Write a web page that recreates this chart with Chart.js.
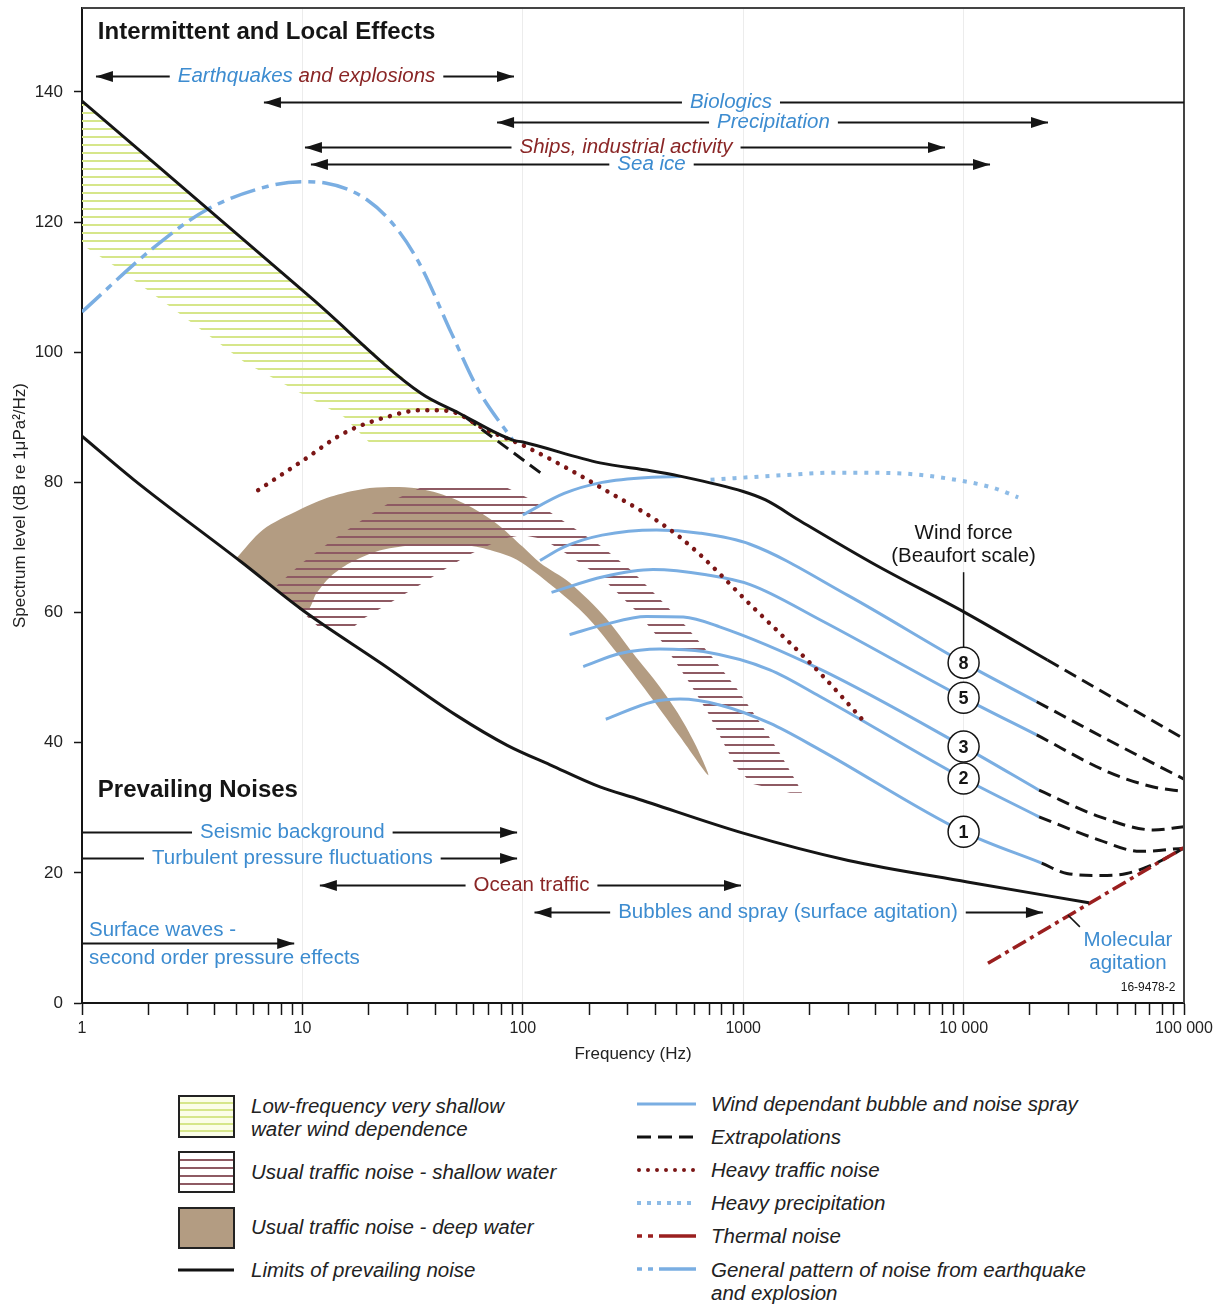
<!DOCTYPE html>
<html>
<head>
<meta charset="utf-8">
<title>Ambient noise spectra</title>
<script src="https://cdn.jsdelivr.net/npm/chart.js"></script>
<style>
  body { margin: 0; background: #fff; }
  #wrap { position: relative; width: 1218px; height: 1305px; font-family: "Liberation Sans", Arial, sans-serif; }
  #chart { position: absolute; left: 0; top: 0; }
  .key { position: absolute; font-style: italic; font-size: 20.5px; line-height: 23px; color: #222; white-space: nowrap; }
  .box { position: absolute; box-sizing: border-box; border: 2px solid #222; width: 57px; left: 178px; }
</style>
</head>
<body>
<div id="wrap">
  <canvas id="chart" width="1218" height="1075"></canvas>

  <div class="box" style="top:1095px;height:43px;background:repeating-linear-gradient(to bottom,#fbfde8 0,#fbfde8 5px,#d6e68a 5px,#d6e68a 7px)"></div>
  <div class="box" style="top:1151px;height:42px;background:repeating-linear-gradient(to bottom,#fff 0,#fff 6px,#8e5a63 6px,#8e5a63 8px)"></div>
  <div class="box" style="top:1207px;height:42px;background:#b39c82"></div>

  <svg style="position:absolute;left:0;top:1075px" width="1218" height="230">
    <line x1="178" y1="195" x2="234" y2="195" stroke="#111" stroke-width="3"/>
    <line x1="637" y1="29" x2="696" y2="29" stroke="#7aaee2" stroke-width="3"/>
    <line x1="637" y1="62" x2="696" y2="62" stroke="#111" stroke-width="3" stroke-dasharray="14 7"/>
    <line x1="639" y1="95" x2="696" y2="95" stroke="#7b1616" stroke-width="4" stroke-linecap="round" stroke-dasharray="0 9"/>
    <line x1="637" y1="128" x2="696" y2="128" stroke="#8dbbe6" stroke-width="4" stroke-dasharray="4 6"/>
    <line x1="637" y1="161" x2="696" y2="161" stroke="#9a1f1f" stroke-width="3.5" stroke-dasharray="5 6 5 6 40"/>
    <line x1="637" y1="194" x2="696" y2="194" stroke="#7aaee2" stroke-width="3.5" stroke-dasharray="5 6 5 6 40"/>
  </svg>

  <div class="key" style="left:251px;top:1094px">Low-frequency very shallow<br>water wind dependence</div>
  <div class="key" style="left:251px;top:1160px">Usual traffic noise - shallow water</div>
  <div class="key" style="left:251px;top:1215px">Usual traffic noise - deep water</div>
  <div class="key" style="left:251px;top:1258px">Limits of prevailing noise</div>
  <div class="key" style="left:711px;top:1092px">Wind dependant bubble and noise spray</div>
  <div class="key" style="left:711px;top:1125px">Extrapolations</div>
  <div class="key" style="left:711px;top:1158px">Heavy traffic noise</div>
  <div class="key" style="left:711px;top:1191px">Heavy precipitation</div>
  <div class="key" style="left:711px;top:1224px">Thermal noise</div>
  <div class="key" style="left:711px;top:1258px">General pattern of noise from earthquake<br>and explosion</div>
</div>

<script>
// frequencies in Hz, levels in dB re 1 µPa²/Hz
const upperLimitHz = [1, 11, 34.5, 51, 90, 100, 224, 380, 510, 1000, 1263, 1830, 3900, 10400, 24000];
const upperLimitDb = [138.6, 108.3, 93.7, 90.7, 86.5, 86.2, 83.0, 81.8, 81.0, 78.6, 77.3, 74.0, 67.5, 59.8, 52.7];
const lowerLimitHz = [1, 1.72, 5.27, 10, 23, 50, 85, 133, 224, 323, 1000, 3000, 10400, 37000];
const lowerLimitDb = [87.1, 80.4, 67.8, 60.4, 52.1, 44.2, 39.6, 36.6, 33.2, 31.5, 26.1, 21.9, 18.6, 15.4];

// wind dependent bubble / spray noise, Beaufort force
const windForces = ['8', '5', '3', '2', '1'];
const windTopHz = [100, 154, 229, 386, 520];
const windTopDb = [75.0, 78.3, 80.0, 80.8, 80.9];
const wind8Hz = [119.7, 154, 229, 404, 637, 1075, 3000, 10000, 21460];
const wind8Db = [68.0, 70.1, 71.9, 72.7, 72.2, 70.5, 62.6, 52.3, 46.3];
const wind5Hz = [135, 232, 390, 680, 1075, 2230, 10000, 21460];
const wind5Db = [63.1, 65.5, 66.6, 65.8, 64.3, 58.9, 46.9, 41.2];
const wind3Hz = [163, 232, 364, 535, 782, 2230, 10000, 22000];
const wind3Db = [56.6, 58.1, 59.4, 59.3, 57.8, 51.3, 39.4, 32.7];
const wind2Hz = [188, 276, 418, 660, 1320, 2230, 10000, 22000];
const wind2Db = [51.7, 53.7, 54.4, 54.0, 51.2, 47.1, 34.5, 28.6];
const wind1Hz = [238, 390, 517, 782, 1320, 2230, 10000, 22600];
const wind1Db = [43.6, 46.3, 46.7, 45.8, 43.0, 38.9, 26.3, 21.5];

// extrapolations (black dashed)
const extUpperHz = [24000, 100000];
const extUpperDb = [52.7, 40.6];
const extTrendHz = [55, 120];
const extTrendDb = [90.0, 81.5];
const ext8Hz = [21460, 46000, 100000];
const ext8Db = [46.3, 40.3, 34.4];
const ext5Hz = [21460, 46000, 72600, 100000];
const ext5Db = [41.2, 35.4, 33.2, 32.5];
const ext3Hz = [22000, 41600, 72600, 100000];
const ext3Db = [32.7, 28.6, 26.6, 27.1];
const ext2Hz = [22000, 41600, 63100, 100000];
const ext2Db = [28.6, 25.0, 23.3, 23.8];
const ext1Hz = [22600, 29400, 41600, 54900, 72600, 100000];
const ext1Db = [21.5, 19.9, 19.6, 19.9, 21.3, 23.8];

const thermalHz = [12900, 100000];
const thermalDb = [6.1, 23.9];
const heavyTrafficHz = [6.3, 10, 15.5, 25, 34.5, 45.6, 68, 103, 229, 511, 1140, 2230, 3660];
const heavyTrafficDb = [78.8, 83.3, 87.6, 90.2, 91.1, 91.0, 88.1, 85.5, 79.1, 71.7, 60.4, 50.7, 42.7];
const precipHz = [711, 1500, 2660, 5000, 9200, 13500, 17700];
const precipDb = [80.4, 81.1, 81.5, 81.4, 80.4, 79.2, 77.7];
const quakeHz = [1, 2.1, 3.68, 6.98, 10, 12.7, 19.7, 27.1, 34.5, 47.5, 62.9, 90];
const quakeDb = [106.2, 116, 121.9, 125.5, 126.2, 126.0, 123.4, 118.8, 113.2, 102.9, 94.2, 86.5];

// outlines of the shaded areas
const deepWaterHz = [5.0, 6.6, 9.7, 13.4, 18.9, 24.9, 33, 43.5, 57.6, 75.9, 100, 120, 163, 239, 317, 418, 517, 613, 694,
  517, 389, 276, 195, 137, 94, 71, 53.6, 37.9, 28.6, 21.7, 16.4, 13.4, 11.6, 10.45, 7.2];
const deepWaterDb = [68.3, 72.7, 75.8, 77.8, 79.0, 79.3, 79.1, 78.1, 76.3, 73.7, 70.1, 67.6, 64.6, 59.1, 53.7, 48.6, 44.0, 39.4, 35.0,
  40.9, 46.6, 53.2, 59.4, 64.0, 68.1, 69.6, 70.4, 70.5, 70.2, 69.4, 67.6, 65.5, 63.0, 60.4, 64.2];
const shallowWaterHz = [12.0, 7.51, 9.96, 13.9, 19.8, 26.0, 37.5, 78.0, 110, 160, 229, 313, 402, 550, 729, 937, 1180, 1453, 1754, 1849,
  1631, 1096, 937, 818, 692, 568, 428, 323, 231, 162, 123.5, 99.2, 80.4, 56.4, 43.0, 32.8, 25.0, 19.2, 16.8];
const shallowWaterDb = [57.6, 63.9, 67.6, 71.3, 74.8, 77.3, 79.8, 79.8, 77.3, 73.6, 70.1, 66.4, 62.7, 57.9, 53.0, 48.3, 43.3, 38.6, 33.8, 32.3,
  32.3, 33.7, 36.1, 39.8, 44.6, 49.3, 55.5, 60.4, 65.2, 68.8, 71.3, 71.9, 71.3, 68.8, 66.4, 63.9, 61.5, 59.2, 57.6];
const shallowWindEdgeHz = [100, 21.3, 15.4, 5.5, 2.56, 1.41, 1];
const shallowWindEdgeDb = [85.3, 85.3, 90.1, 98.4, 106.8, 113.2, 116.5];

// source ranges drawn as arrows
const rangeLabels = ['Earthquakes and explosions', 'Biologics', 'Precipitation', 'Ships, industrial activity', 'Sea ice',
  'Seismic background', 'Turbulent pressure fluctuations', 'Ocean traffic', 'Bubbles and spray (surface agitation)'];
const rangeFromHz = [1.157, 6.69, 76.4, 10.27, 10.93, 1, 1, 12.0, 113];
const rangeToHz = [91.2, 100000, 24150, 8234, 13180, 94.2, 94.2, 977, 22900];
const rangeLevelDb = [142.5, 138.5, 135.4, 131.6, 128.9, 26.3, 22.3, 18.1, 14.0];
const rangeLabelHz = [10.44, 880, 1372, 294, 383.7, 9.0, 9.0, 109.5, 1596];

// axis ticks
const xDecades = [1, 10, 100, 1000, 10000, 100000];
const xTickLabels = ['1', '10', '100', '1000', '10 000', '100 000'];
const yTicks = [0, 20, 40, 60, 80, 100, 120, 140];

const BLUE = '#7aaee2';
const BLUE_TEXT = '#3d8cd0';
const RED_TEXT = '#8a2626';
const INK = '#151515';
const SANS = '"Liberation Sans", Arial, sans-serif';
const NARROW = '"Liberation Sans Narrow", "Arial Narrow", "Liberation Sans", Arial, sans-serif';
const LABEL_SIZE = '20.5px ';

function pts(hz, db) {
  return hz.map((f, i) => ({x: f, y: db[i]}));
}

function stripes(color, gap, thick) {
  const c = document.createElement('canvas');
  c.width = 8;
  c.height = gap;
  const g = c.getContext('2d');
  g.fillStyle = color;
  g.fillRect(0, 0, 8, thick);
  return g.createPattern(c, 'repeat');
}

function curve(data, color, width, dash, order, extra) {
  return Object.assign({
    data: data,
    borderColor: color,
    borderWidth: width,
    borderDash: dash || [],
    cubicInterpolationMode: 'monotone',
    pointRadius: 0,
    fill: false,
    order: order
  }, extra || {});
}

function area(data, color, order, tension) {
  return {data: data, borderWidth: 0, borderColor: 'transparent', backgroundColor: color,
    fill: 'shape', pointRadius: 0, tension: tension || 0, order: order};
}

const shallowWindOutline = pts(upperLimitHz, upperLimitDb).filter(p => p.x <= 100)
  .concat(pts(shallowWindEdgeHz, shallowWindEdgeDb));

const windHz = [wind8Hz, wind5Hz, wind3Hz, wind2Hz, wind1Hz];
const windDb = [wind8Db, wind5Db, wind3Db, wind2Db, wind1Db];

function windCurve(hz, db) {
  return curve(pts(hz, db), BLUE, 3, null, 8, {
    pointRadius: c => (hz[c.dataIndex] === 10000 ? 15.5 : 0),
    pointBackgroundColor: '#fff',
    pointBorderColor: INK,
    pointBorderWidth: 1.5
  });
}

const dots = {borderCapStyle: 'round'};

const datasets = [
  area(pts(deepWaterHz, deepWaterDb), '#b39c82', 20, 0.3),
  area(pts(shallowWaterHz, shallowWaterDb), stripes('#8e5a63', 8, 2), 19),
  area(shallowWindOutline, stripes('#d6e68a', 8, 2), 18),
  curve(pts(quakeHz, quakeDb), BLUE, 3.5, [26, 7, 7, 7], 12),
  curve(pts(precipHz, precipDb), '#8dbbe6', 4, [4, 7], 11),
  curve(pts(windTopHz, windTopDb), BLUE, 3, null, 8),
  ...windHz.map((hz, i) => windCurve(hz, windDb[i])),
  curve(pts(extUpperHz, extUpperDb), INK, 3, [13, 7], 7),
  curve(pts(extTrendHz, extTrendDb), INK, 3, [13, 7], 7),
  curve(pts(ext8Hz, ext8Db), INK, 3, [13, 7], 7),
  curve(pts(ext5Hz, ext5Db), INK, 3, [13, 7], 7),
  curve(pts(ext3Hz, ext3Db), INK, 3, [13, 7], 7),
  curve(pts(ext2Hz, ext2Db), INK, 3, [13, 7], 7),
  curve(pts(ext1Hz, ext1Db), INK, 3, [13, 7], 7),
  curve(pts(thermalHz, thermalDb), '#9a1f1f', 3.5, [15, 5, 4, 5], 6),
  curve(pts(heavyTrafficHz, heavyTrafficDb), '#7b1616', 4.5, [0.01, 9.5], 5, dots),
  curve(pts(upperLimitHz, upperLimitDb), INK, 3, null, 4),
  curve(pts(lowerLimitHz, lowerLimitDb), INK, 3, null, 4)
];

function head(ctx, x, y, dir) {
  ctx.beginPath();
  ctx.moveTo(x, y);
  ctx.lineTo(x - dir * 17, y - 5.5);
  ctx.lineTo(x - dir * 17, y + 5.5);
  ctx.closePath();
  ctx.fill();
}

const notes = {
  id: 'notes',
  afterDatasetsDraw(chart) {
    const ctx = chart.ctx;
    const {x, y} = chart.scales;
    const a = chart.chartArea;
    ctx.save();

    // frame top and right
    ctx.strokeStyle = '#444';
    ctx.lineWidth = 2;
    ctx.beginPath();
    ctx.moveTo(a.left, a.top);
    ctx.lineTo(a.right, a.top);
    ctx.lineTo(a.right, a.bottom);
    ctx.stroke();

    ctx.textBaseline = 'middle';
    ctx.fillStyle = INK;
    ctx.font = 'bold 24px ' + SANS;
    ctx.textAlign = 'left';
    ctx.fillText('Intermittent and Local Effects', x.getPixelForValue(1.18), y.getPixelForValue(149.1));
    ctx.fillText('Prevailing Noises', x.getPixelForValue(1.18), y.getPixelForValue(32.6));

    // ranges
    rangeLabels.forEach((label, i) => {
      const yy = Math.round(y.getPixelForValue(rangeLevelDb[i])) + 0.5;
      const x1 = x.getPixelForValue(rangeFromHz[i]);
      const x2 = x.getPixelForValue(rangeToHz[i]);
      const xc = x.getPixelForValue(rangeLabelHz[i]);
      ctx.font = (i < 5 ? 'italic ' : '') + LABEL_SIZE + SANS;
      const w = ctx.measureText(label).width;
      ctx.strokeStyle = INK;
      ctx.fillStyle = INK;
      ctx.lineWidth = 2;
      ctx.beginPath();
      ctx.moveTo(x1, yy);
      ctx.lineTo(xc - w / 2 - 8, yy);
      ctx.moveTo(xc + w / 2 + 8, yy);
      ctx.lineTo(x2, yy);
      ctx.stroke();
      if (rangeFromHz[i] > 1) head(ctx, x1, yy, -1);
      if (rangeToHz[i] < 100000) head(ctx, x2, yy, 1);
      ctx.textAlign = 'left';
      const tx = xc - w / 2;
      if (i === 0) {
        const first = 'Earthquakes';
        ctx.fillStyle = BLUE_TEXT;
        ctx.fillText(first, tx, yy);
        ctx.fillStyle = RED_TEXT;
        ctx.fillText(label.slice(first.length), tx + ctx.measureText(first).width, yy);
      } else {
        ctx.fillStyle = (i === 3 || i === 7) ? RED_TEXT : BLUE_TEXT;
        ctx.fillText(label, tx, yy);
      }
    });

    // surface waves
    const sy = Math.round(y.getPixelForValue(9.2)) + 0.5;
    ctx.strokeStyle = INK;
    ctx.fillStyle = INK;
    ctx.beginPath();
    ctx.moveTo(x.getPixelForValue(1), sy);
    ctx.lineTo(x.getPixelForValue(9.18), sy);
    ctx.stroke();
    head(ctx, x.getPixelForValue(9.18), sy, 1);
    ctx.font = LABEL_SIZE + SANS;
    ctx.fillStyle = BLUE_TEXT;
    ctx.fillText('Surface waves -', x.getPixelForValue(1.076), y.getPixelForValue(11.1));
    ctx.fillText('second order pressure effects', x.getPixelForValue(1.076), y.getPixelForValue(6.9));

    // molecular agitation
    ctx.textAlign = 'center';
    ctx.strokeStyle = INK;
    ctx.lineWidth = 1.5;
    ctx.beginPath();
    ctx.moveTo(x.getPixelForValue(29770), y.getPixelForValue(13.5));
    ctx.lineTo(x.getPixelForValue(33700), y.getPixelForValue(11.7));
    ctx.stroke();
    ctx.fillText('Molecular', x.getPixelForValue(55700), y.getPixelForValue(9.7));
    ctx.fillText('agitation', x.getPixelForValue(55700), y.getPixelForValue(6.1));
    ctx.fillStyle = INK;
    ctx.font = '12px ' + SANS;
    ctx.fillText('16-9478-2', x.getPixelForValue(68700), y.getPixelForValue(2.3));

    // wind force labels
    const wx = x.getPixelForValue(10000);
    ctx.font = LABEL_SIZE + SANS;
    ctx.fillText('Wind force', wx, y.getPixelForValue(72.2));
    ctx.fillText('(Beaufort scale)', wx, y.getPixelForValue(68.7));
    const top8 = y.getPixelForValue(wind8Db[wind8Hz.indexOf(10000)]) - 15.5;
    ctx.lineWidth = 1.5;
    ctx.beginPath();
    ctx.moveTo(wx, y.getPixelForValue(66.2));
    ctx.lineTo(wx, top8);
    ctx.stroke();
    ctx.font = 'bold 18px ' + SANS;
    windForces.forEach((label, i) => {
      const k = windHz[i].indexOf(10000);
      ctx.fillText(label, wx, y.getPixelForValue(windDb[i][k]) + 1);
    });
    ctx.restore();
  }
};

new Chart(document.getElementById('chart'), {
  type: 'line',
  data: {datasets: datasets},
  options: {
    responsive: false,
    animation: false,
    devicePixelRatio: 1,
    layout: {padding: {left: 0, right: 34, top: 8, bottom: 0}},
    plugins: {legend: {display: false}, tooltip: {enabled: false}},
    scales: {
      x: {
        type: 'logarithmic',
        min: 1,
        max: 100000,
        afterBuildTicks(s) {
          const t = [];
          xDecades.forEach((d, i) => {
            const last = i === xDecades.length - 1 ? 1 : 9;
            for (let m = 1; m <= last; m++) t.push({value: d * m});
          });
          s.ticks = t;
        },
        afterFit(s) {
          s.height = 72;
          s.paddingLeft = 0;
          s.paddingRight = 0;
        },
        ticks: {
          autoSkip: false,
          maxRotation: 0,
          minRotation: 0,
          padding: 4,
          color: '#222',
          font: {family: NARROW, size: 16},
          callback: v => {
            const i = xDecades.indexOf(v);
            return i >= 0 ? xTickLabels[i] : '';
          }
        },
        grid: {
          color: c => (c.tick && xDecades.includes(c.tick.value) ? '#ececec' : 'rgba(0,0,0,0)'),
          tickColor: INK,
          tickLength: 12,
          tickWidth: 1.5
        },
        border: {color: INK, width: 2},
        title: {display: true, text: 'Frequency (Hz)', color: '#222',
          font: {family: NARROW, size: 17}, padding: {top: 0, bottom: 10}}
      },
      y: {
        type: 'linear',
        min: 0,
        max: 152.9,
        afterBuildTicks(s) {
          s.ticks = yTicks.map(v => ({value: v}));
        },
        afterFit(s) {
          s.width = 82;
          s.paddingTop = 0;
          s.paddingBottom = 0;
        },
        ticks: {padding: 11, color: '#222', font: {family: NARROW, size: 17}},
        grid: {drawOnChartArea: false, tickColor: INK, tickLength: 8, tickWidth: 1.5},
        border: {color: INK, width: 2},
        title: {display: true, text: 'Spectrum level (dB re 1\u03bcPa\u00b2/Hz)', color: '#222',
          font: {family: NARROW, size: 17}, padding: {top: 10, bottom: 0}}
      }
    }
  },
  plugins: [notes]
});
</script>
</body>
</html>
